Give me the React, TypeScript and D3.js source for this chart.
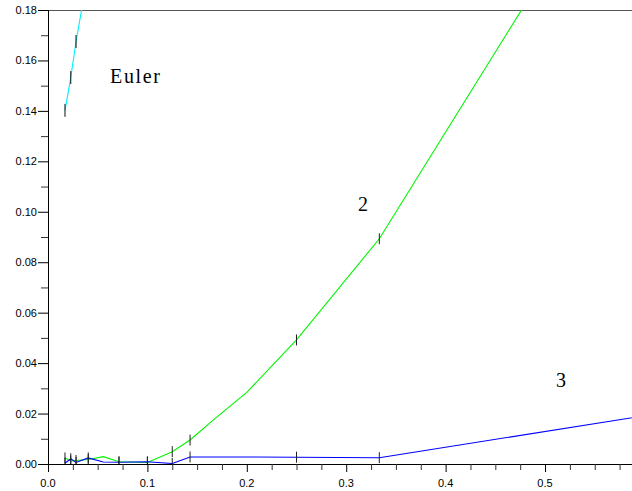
import React from "react";
import * as d3 from "d3";

// Step sizes h (x axis) and error values
const eulerH = [0.0171, 0.0229, 0.0282, 0.0405];
const eulerErr = [0.1402, 0.1532, 0.1675, 0.195];
const eulerMarkH = [0.0171, 0.0229, 0.0282];

const order2H = [0.0171, 0.0229, 0.0282, 0.0405, 0.0556, 0.0714, 0.1, 0.125, 0.1429, 0.1667, 0.2, 0.25, 0.3333, 0.5];
const order2Err = [0.0024, 0.0012, 0.0014, 0.0018, 0.0029, 0.0009, 0.0006, 0.0049, 0.0095, 0.0176, 0.0284, 0.0492, 0.0893, 0.195];

const order3H = [0.0171, 0.0229, 0.0282, 0.0405, 0.0556, 0.0714, 0.1, 0.125, 0.1429, 0.2, 0.25, 0.3333, 1.0];
const order3Err = [0.0003, 0.0021, 0.0006, 0.0024, 0.0008, 0.0007, 0.0009, 0.0002, 0.0028, 0.0028, 0.0027, 0.0025, 0.044];

const markH = [0.0171, 0.0229, 0.0282, 0.0405, 0.0714, 0.1, 0.125, 0.1429, 0.25, 0.3333];

const xMajorTicks = [0, 0.1, 0.2, 0.3, 0.4, 0.5];
const yMajorTicks = [0, 0.02, 0.04, 0.06, 0.08, 0.1, 0.12, 0.14, 0.16, 0.18];

const labelTexts = ["Euler", "2", "3"];
const labelX = [0.0624, 0.3119, 0.5111];
const labelY = [0.1512, 0.1004, 0.0306];

const W = 632;
const H = 491;
const left = 48;
const right = 632;
const top = 10;
const bottom = 464;

export default function App() {
  const x = d3.scaleLinear().domain([0, 0.5875]).range([left, right]);
  const y = d3.scaleLinear().domain([0, 0.18]).range([bottom, top]);

  const line = d3
    .line<[number, number]>()
    .x((d) => x(d[0]))
    .y((d) => y(d[1]));

  const zip = (a: number[], b: number[]) => a.map((v, i) => [v, b[i]] as [number, number]);
  const valAt = (hs: number[], es: number[], h: number) => es[hs.indexOf(h)];

  const xMinor = d3.range(0, 0.5875, 0.025).filter((v) => Math.abs((v * 10) - Math.round(v * 10)) > 1e-6);
  const yMinor = d3.range(0.01, 0.18, 0.02);

  const markLen = 11;

  return (
    <svg
      width={W}
      height={H}
      style={{ position: "fixed", left: 0, top: 0, background: "#fff" }}
      fontFamily="'Liberation Sans', Arial, sans-serif"
    >
      <defs>
        <clipPath id="plot">
          <rect x={left} y={top} width={right - left} height={bottom - top} />
        </clipPath>
      </defs>
      <rect x={0} y={0} width={W} height={H} fill="#fff" />

      {/* top border */}
      <line x1={left} x2={right} y1={top + 0.5} y2={top + 0.5} stroke="#555" strokeWidth={1} />

      {/* series */}
      <g clipPath="url(#plot)" fill="none">
        <path d={line(zip(eulerH, eulerErr)) || ""} stroke="#00f0ff" strokeWidth={1.1} />
        <path d={line(zip(order2H, order2Err)) || ""} stroke="#00f500" strokeWidth={1.1} />
        <path d={line(zip(order3H, order3Err)) || ""} stroke="#0000ff" strokeWidth={1.1} />
        {eulerMarkH.map((h, i) => (
          <line
            key={"e" + i}
            x1={x(h)}
            x2={x(h)}
            y1={y(valAt(eulerH, eulerErr, h)) - markLen / 2 - 1}
            y2={y(valAt(eulerH, eulerErr, h)) + markLen / 2 + 1}
            stroke="#111"
            strokeWidth={1}
          />
        ))}
        {markH.map((h, i) => (
          <line
            key={"g" + i}
            x1={x(h)}
            x2={x(h)}
            y1={y(valAt(order2H, order2Err, h)) - markLen / 2}
            y2={y(valAt(order2H, order2Err, h)) + markLen / 2}
            stroke="#222"
            strokeWidth={1}
          />
        ))}
        {markH.map((h, i) => (
          <line
            key={"b" + i}
            x1={x(h)}
            x2={x(h)}
            y1={y(valAt(order3H, order3Err, h)) - markLen / 2}
            y2={y(valAt(order3H, order3Err, h)) + markLen / 2}
            stroke="#222"
            strokeWidth={1}
          />
        ))}
      </g>

      {/* axes */}
      <line x1={left + 0.5} x2={left + 0.5} y1={top} y2={bottom} stroke="#000" strokeWidth={1} />
      <line x1={left} x2={right} y1={bottom + 0.5} y2={bottom + 0.5} stroke="#000" strokeWidth={1} />

      {/* x ticks */}
      {xMajorTicks.map((t) => (
        <g key={"xt" + t}>
          <line x1={x(t) + 0.5} x2={x(t) + 0.5} y1={bottom} y2={bottom + 8} stroke="#000" />
          <text x={x(t)} y={487} fontSize={11} textAnchor="middle" fill="#000">
            {d3.format(".1f")(t)}
          </text>
        </g>
      ))}
      {xMinor.map((t, i) => (
        <line key={"xm" + i} x1={x(t) + 0.5} x2={x(t) + 0.5} y1={bottom} y2={bottom + 6} stroke="#333" />
      ))}

      {/* y ticks */}
      {yMajorTicks.map((t) => (
        <g key={"yt" + t}>
          <line x1={left - 10} x2={left} y1={y(t) + 0.5} y2={y(t) + 0.5} stroke="#000" />
          <text x={left - 11} y={y(t) + 4} fontSize={11} textAnchor="end" fill="#000">
            {d3.format(".2f")(t)}
          </text>
        </g>
      ))}
      {yMinor.map((t, i) => (
        <line key={"ym" + i} x1={left - 7} x2={left} y1={y(t) + 0.5} y2={y(t) + 0.5} stroke="#333" />
      ))}

      {/* annotations */}
      {labelTexts.map((s, i) => (
        <text
          key={"l" + i}
          x={x(labelX[i])}
          y={y(labelY[i])}
          fontFamily="'Liberation Serif', 'Times New Roman', serif"
          fontSize={20}
          fill="#000"
          {...(i === 0 ? { textLength: 50, lengthAdjust: "spacing" } : {})}
        >
          {s}
        </text>
      ))}
    </svg>
  );
}
